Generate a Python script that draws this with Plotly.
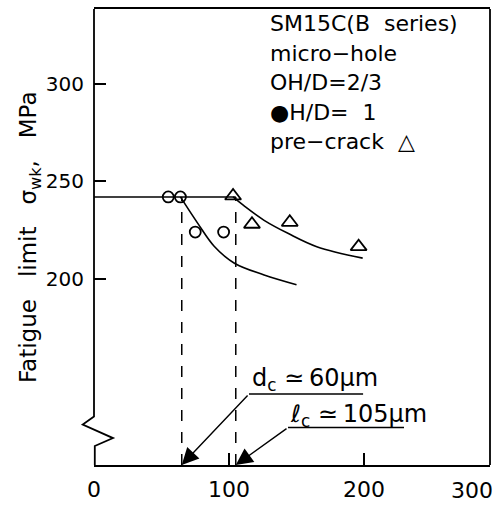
import plotly.graph_objects as go

# ---- data ----
sigma_w0 = 242                     # plateau fatigue limit (MPa)
plateau_x = [0, 105]

hole_x = [55, 64, 75, 96]          # micro-hole, H/D = 2/3 (open circles)
hole_y = [242, 242, 224, 224]

crack_x = [103, 117, 145, 196]     # pre-crack (triangles)
crack_y = [242.5, 228, 229, 216.5]

hole_curve_x = [64, 77, 89, 104, 126, 150]
hole_curve_y = [242, 228.3, 216.7, 208.0, 202.0, 197.0]

crack_curve_x = [103, 111, 126, 144, 165, 199]
crack_curve_y = [242, 237.5, 230.0, 223.2, 216.5, 210.6]

d_c = 65       # critical hole size (dashed line)
l_c = 105      # critical crack length (dashed line)

x_range = [0, 293.3]
y_range = [104.5, 338.4]
x_ticks = [0, 100, 200]
y_ticks = [200, 250, 300]

legend_lines = ["SM15C(B\u00a0\u00a0series)", "micro\u2212hole", "OH/D=2/3",
                "\u25cfH/D=\u00a0\u00a01", "pre\u2212crack\u00a0\u00a0\u25b3"]

FONT = "DejaVu Sans"

fig = go.Figure()

fig.add_trace(go.Scatter(x=plateau_x, y=[sigma_w0, sigma_w0], mode="lines",
                         line=dict(color="black", width=1.6), showlegend=False))
for xv in (d_c, l_c):
    fig.add_trace(go.Scatter(x=[xv, xv], y=[y_range[0], sigma_w0], mode="lines",
                             line=dict(color="black", width=1.5, dash="11px,11px"),
                             showlegend=False))
fig.add_trace(go.Scatter(x=hole_curve_x, y=hole_curve_y, mode="lines",
                         line=dict(color="black", width=1.6, shape="spline"),
                         showlegend=False))
fig.add_trace(go.Scatter(x=crack_curve_x, y=crack_curve_y, mode="lines",
                         line=dict(color="black", width=1.6, shape="spline"),
                         showlegend=False))
fig.add_trace(go.Scatter(x=hole_x, y=hole_y, mode="markers",
                         marker=dict(symbol="circle-open", size=11,
                                     color="black", line=dict(width=1.8)),
                         showlegend=False))
fig.add_trace(go.Scatter(x=crack_x, y=crack_y, mode="markers",
                         marker=dict(symbol="triangle-up-open", size=14,
                                     color="black", line=dict(width=1.8)),
                         showlegend=False))

# left axis with a break (zigzag) and right frame line
fig.add_shape(type="path", xref="paper", yref="paper",
              path="M 0,1 L 0,0.1065 L -0.0285,0.0886 L 0.048,0.059 L 0.002,0.0417 L 0.002,0",
              line=dict(color="black", width=1.8))
fig.add_shape(type="line", xref="paper", yref="paper", x0=1, x1=1, y0=0, y1=1,
              line=dict(color="black", width=1.8))

# underlines for the critical-size labels
fig.add_shape(type="line", xref="x", yref="y", x0=114.8, x1=199.3, y0=140.9, y1=140.9,
              line=dict(color="black", width=1.4))
fig.add_shape(type="line", xref="x", yref="y", x0=143.7, x1=229.6, y0=123.7, y1=123.7,
              line=dict(color="black", width=1.4))

ann = []
for (tx, ty, hx) in ((114.8, 140.9, d_c), (143.7, 123.7, l_c)):
    ann.append(dict(x=hx, y=y_range[0], ax=tx, ay=ty, xref="x", yref="y",
                    axref="x", ayref="y", text="", showarrow=True,
                    arrowhead=2, arrowsize=2.4, arrowwidth=1.4, arrowcolor="black"))
ann.append(dict(x=115.6, y=148.5, xref="x", yref="y", xanchor="left", yanchor="middle",
                text="d<sub>c</sub>\u00a0\u2243\u200960\u03bcm", showarrow=False,
                font=dict(family=FONT, size=24, color="black")))
ann.append(dict(x=143.7, y=129.8, xref="x", yref="y", xanchor="left", yanchor="middle",
                text="\u2113<sub>c</sub>\u00a0\u2243\u2009105\u03bcm", showarrow=False,
                font=dict(family=FONT, size=24, color="black")))
for i, t in enumerate(legend_lines):
    py = 22 + 30 * i
    ann.append(dict(x=(268 - 94) / 396, y=(470 - py) / 463, xref="paper", yref="paper",
                    xanchor="left", yanchor="middle", text=t, showarrow=False,
                    font=dict(family=FONT, size=22, color="black")))
ann.append(dict(x=(30 - 94) / 396, y=0.5, xref="paper", yref="paper",
                xanchor="center", yanchor="middle", textangle=-90,
                text="Fatigue\u00a0\u00a0\u00a0limit\u00a0\u00a0\u00a0\u03c3<sub>wk</sub>,\u00a0\u00a0\u00a0MPa",
                showarrow=False, font=dict(family=FONT, size=23, color="black")))
ann.append(dict(x=(472 - 94) / 396, y=-0.0432, yshift=-6, xref="paper", yref="paper",
                xanchor="center", yanchor="middle", text="300", showarrow=False,
                font=dict(family=FONT, size=22, color="black")))

fig.update_layout(
    width=501, height=509, autosize=False,
    margin=dict(l=94, r=11, t=7, b=39),
    paper_bgcolor="white", plot_bgcolor="white",
    annotations=ann,
    xaxis=dict(range=x_range, tickvals=x_ticks, ticks="inside", ticklen=12,
               tickwidth=1.5, tickcolor="black", showline=True, mirror=True,
               linewidth=1.8, linecolor="black", showgrid=False, zeroline=False,
               ticklabelstandoff=4,
               tickfont=dict(family=FONT, size=22, color="black")),
    yaxis=dict(range=y_range, tickvals=y_ticks, ticks="inside", ticklen=12,
               tickwidth=1.5, tickcolor="black", showline=False, showgrid=False,
               zeroline=False, ticklabelstandoff=9,
               tickfont=dict(family=FONT, size=20, color="black")),
)

fig.write_html("out.html", config={"displayModeBar": False},
               post_script="document.body.style.margin='0';document.body.style.padding='0';")
